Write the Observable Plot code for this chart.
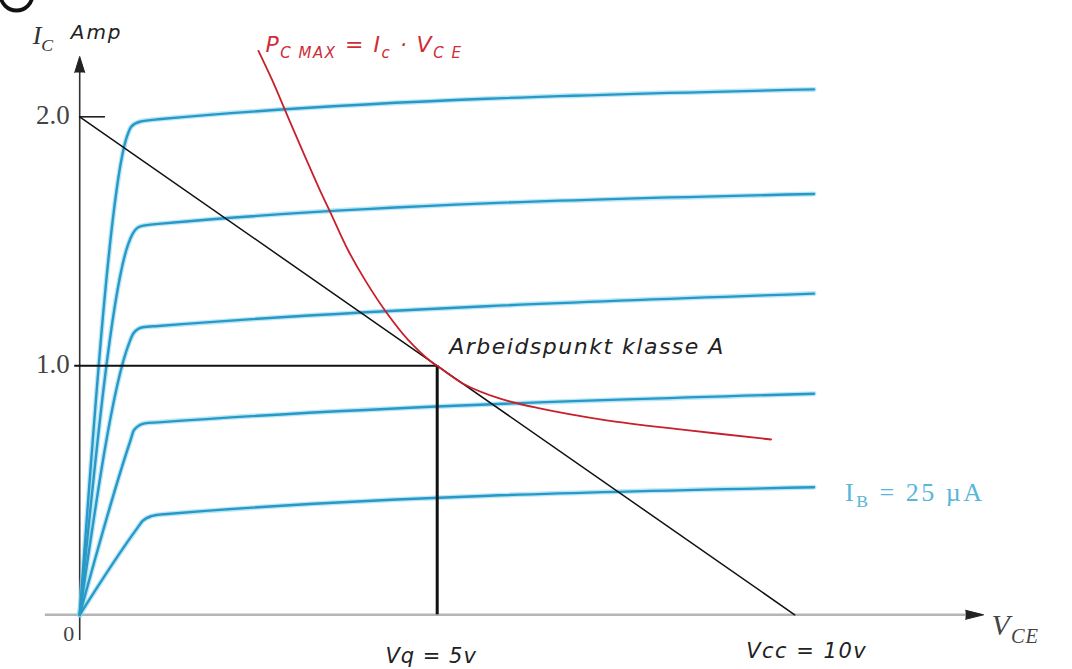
<!DOCTYPE html>
<html><head><meta charset="utf-8">
<script src="https://cdn.jsdelivr.net/npm/d3@7"></script>
<script src="https://cdn.jsdelivr.net/npm/@observablehq/plot@0.6"></script>
<style>body{margin:0;background:#fff} svg{display:block}</style>
</head><body><div id="chart"></div>
<script>
// Collector characteristic curves (V_CE in volt, I_C in ampere)
const curve1 = [[0,0],[0.66,1.92],[0.72,1.96],[0.84,1.98],[1.10,1.99],[10.27,2.11]];
const curve2 = [[0,0],[0.68,1.49],[0.74,1.53],[0.85,1.56],[1.10,1.57],[10.27,1.69]];
const curve3 = [[0,0],[0.69,1.09],[0.75,1.13],[0.88,1.155],[1.10,1.16],[10.27,1.29]];
const curve4 = [[0,0],[0.71,0.70],[0.76,0.742],[0.91,0.769],[1.10,0.773],[10.27,0.888]];
const curve5 = [[0,0],[0.81,0.35],[0.88,0.377],[1.0,0.396],[1.18,0.404],[10.27,0.512]];
// P_CMAX hyperbola
const pmaxV = [2.50,2.68,2.90,3.12,3.34,3.53,3.75,4.00,4.29,4.59,4.93,5.00,5.37,5.87,6.40,7.37,8.49,9.67];
const pmaxI = [2.265,2.155,2.008,1.861,1.718,1.601,1.466,1.340,1.214,1.105,1.013,1.00,0.927,0.869,0.831,0.781,0.742,0.704];
// Load line
const loadV = [0,5,10];
const loadI = [2,1,0];
// Operating point
const vq = 5, iq = 1, vcc = 10;
// Tick labels
const yTicks = [2,1];
const yTickLabels = ["2.0","1.0"];
const yAxisTop = 2.178, yAxisBottom = -0.103;
const xAxisLeft = -0.48, xAxisRight = 12.39;

const curves = [curve1,curve2,curve3,curve4,curve5];
const curveData = curves.flatMap((pts,k)=>pts.map(([v,i])=>({v,i,k})));
const pmax = pmaxV.map((v,j)=>({v,i:pmaxI[j]}));
const load = loadV.map((v,j)=>({v,i:loadI[j]}));
const ib = curve5[curve5.length-1];

const serif = "Liberation Serif, Times New Roman, serif";
const sans = "DejaVu Sans, Verdana, sans-serif";
const blue = "#2a98c6";

const plot = Plot.plot({
  width: 1072, height: 669,
  marginLeft: 0, marginRight: 0, marginTop: 0, marginBottom: 0,
  x: {type: "linear", domain: [0,10], range: [79.2,794.2], axis: null},
  y: {type: "linear", domain: [0,2], range: [614.3,116.3], axis: null},
  style: {background: "#fff"},
  marks: [
    // x axis (gray) and y axis
    Plot.ruleY([0], {x1: xAxisLeft, x2: xAxisRight, stroke: "#b5b5b5", strokeWidth: 2.5}),
    Plot.ruleX([0], {y1: yAxisBottom, y2: yAxisTop, stroke: "#333", strokeWidth: 1.6}),
    Plot.vector([0], {x: 0, y: yAxisTop, length: 16, r: 5, shape: "spike", anchor: "start", fill: "#222", stroke: "#222", strokeWidth: 1}),
    Plot.vector([0], {x: xAxisRight, y: 0, length: 18, r: 4.5, rotate: 90, shape: "spike", anchor: "start", fill: "#222", stroke: "#222", strokeWidth: 1}),
    // tick at 2.0
    Plot.ruleY([2], {x1: 0, x2: 0.36, stroke: "#222", strokeWidth: 1.6}),
    // blue characteristic curves (halo + core)
    Plot.line(curveData, {x: "v", y: "i", z: "k", curve: "monotone-x", stroke: "#7fd3ef", strokeWidth: 5, strokeOpacity: 0.55}),
    Plot.line(curveData, {x: "v", y: "i", z: "k", curve: "monotone-x", stroke: blue, strokeWidth: 2.4}),
    // load line
    Plot.line(load, {x: "v", y: "i", stroke: "#111", strokeWidth: 1.5}),
    // Q point lines
    Plot.ruleY([iq], {x1: -0.07, x2: vq, stroke: "#111", strokeWidth: 2}),
    Plot.ruleX([vq], {y1: 0, y2: iq, stroke: "#111", strokeWidth: 3}),
    // P_CMAX curve
    Plot.line(pmax, {x: "v", y: "i", curve: "catmull-rom", stroke: "#c8202a", strokeWidth: 1.8}),
    // tick labels
    Plot.text(yTicks, {x: 0, y: d=>d, text: (d,j)=>yTickLabels[j], dx: -10, dy: -1, textAnchor: "end", fontFamily: serif, fontSize: 27, fill: "#444"}),
    Plot.text(["0"], {x: 0, y: 0, dx: -11, dy: 19, fontFamily: serif, fontSize: 22, fill: "#444"}),
    Plot.text(["Vq = 5v"], {x: vq, y: 0, dx: -6, dy: 41, fontFamily: sans, fontStyle: "italic", fontSize: 21, fill: "#222"}),
    Plot.text(["Vcc = 10v"], {x: vcc, y: 0, dx: 12, dy: 36, fontFamily: sans, fontStyle: "italic", fontSize: 21, fill: "#222"}),
    Plot.text(["V_{CE}"], {x: xAxisRight, y: 0, dx: 26, dy: 11, textAnchor: "start", fontFamily: serif, fontStyle: "italic", fontSize: 30, fill: "#444"}),
    Plot.text(["I_{C}"], {x: 0, y: yAxisTop, dx: -47, dy: -37, textAnchor: "start", fontFamily: serif, fontStyle: "italic", fontSize: 26, fill: "#333"}),
    Plot.text(["Amp"], {x: 0, y: yAxisTop, dx: -9, dy: -40, textAnchor: "start", fontFamily: sans, fontStyle: "italic", fontSize: 20, fill: "#222"}),
    Plot.text(["Arbeidspunkt klasse A"], {x: vq, y: iq, dx: 12, dy: -19, textAnchor: "start", fontFamily: sans, fontStyle: "italic", fontSize: 22, fill: "#222"}),
    Plot.text(["I_{B} = 25 µA"], {x: ib[0], y: ib[1], dx: 31, dy: 5, textAnchor: "start", fontFamily: serif, fontSize: 26, fill: "#58b6d8"}),
    Plot.text(["P_{C MAX} = I_{c} · V_{C E}"], {x: pmaxV[0], y: pmaxI[0], dx: 7, dy: -6, textAnchor: "start", fontFamily: sans, fontStyle: "italic", fontSize: 22, fill: "#cf2d38"}),
    // cropped ring in the top-left corner
    Plot.dot([0], {frameAnchor: "top-left", dx: 16, dy: -6, r: 16, stroke: "#111", strokeWidth: 3.8, fill: "none"})
  ]
});

// turn "_{...}" into real subscripts
plot.querySelectorAll("text").forEach(t => {
  const s = t.textContent;
  if (!s.includes("_{")) return;
  const fs = parseFloat(t.getAttribute("font-size") || (t.parentNode && t.parentNode.getAttribute("font-size"))) || 20;
  t.textContent = "";
  const re = /_\{([^}]*)\}/g;
  let last = 0, m, shifted = false;
  const add = (str, sub) => {
    if (!str) return;
    const ts = document.createElementNS("http://www.w3.org/2000/svg", "tspan");
    ts.textContent = str;
    if (sub) { ts.setAttribute("font-size", (fs*0.68).toFixed(1)); ts.setAttribute("dy", (fs*0.26).toFixed(1)); shifted = true; }
    else if (shifted) { ts.setAttribute("dy", (-fs*0.26).toFixed(1)); shifted = false; }
    t.appendChild(ts);
  };
  while ((m = re.exec(s))) { add(s.slice(last, m.index), false); add(m[1], true); last = re.lastIndex; }
  add(s.slice(last), false);
});
// wider letter spacing as in the reference lettering
const spacing = {"Arbeidspunkt klasse A": 1.5, "Vq = 5v": 1, "Vcc = 10v": 1.5, "IB = 25 µA": 2.5, "PC MAX = Ic · VC E": 1.5, "Amp": 2, "VCE": 1};
plot.querySelectorAll("text").forEach(t => {
  const ls = spacing[t.textContent];
  if (ls) t.setAttribute("letter-spacing", ls);
});
document.getElementById("chart").appendChild(plot);
</script></body></html>
